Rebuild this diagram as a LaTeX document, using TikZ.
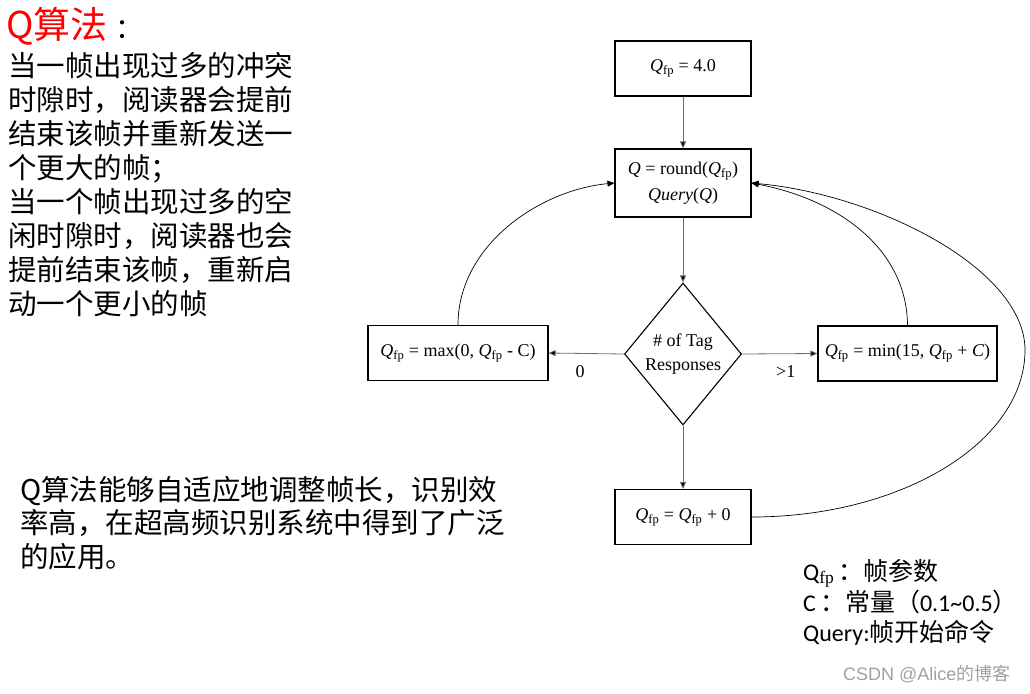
\documentclass[tikz,border=0pt]{standalone}
\usepackage{fontspec}
\setmainfont{Liberation Serif}
\newfontfamily\cjk{Noto Sans CJK SC}
\newfontfamily\carlito{Carlito}
\newfontfamily\wmfont{Liberation Sans}
\usetikzlibrary{shapes.geometric,arrows.meta}
\newcommand{\qfp}{\textit{Q}\textsubscript{fp}}
\definecolor{wmgray}{RGB}{160,160,160}
\definecolor{flowgray}{RGB}{110,110,110}

\begin{document}
\begin{tikzpicture}
        [
            x = 1pt, y = -1pt,
            fpbox/.style = {draw, line width=1.1pt, minimum width=136pt, minimum height=55pt,
                inner sep=0pt, align=center, font=\fontsize{18}{26}\selectfont},
            tagtest/.style = {draw, diamond, line width=1.1pt, minimum width=117pt, minimum height=142pt,
                inner sep=0pt, align=center, font=\fontsize{18}{24}\selectfont},
            flow/.style = {draw=flowgray, line width=0.8pt, -{Triangle[length=7pt,width=6pt,fill=black]}},
            backline/.style = {line width=0.7pt, -{Triangle[length=7pt,width=6pt]}},
            edgetext/.style = {font=\fontsize{18}{18}\selectfont, inner sep=0pt, below=12pt, pos=0.58},
            cjktext/.style = {font=\cjk\fontsize{28.5}{28.5}\selectfont, anchor=base west, inner sep=0pt},
            legend/.style = {font=\cjk\fontsize{25}{25}\selectfont, anchor=base west, inner sep=0pt},
        ]
        \useasboundingbox (0,0) rectangle (1030,693);

        \node[fpbox] (init) at (683,68.5) {\qfp{} = 4.0};
        \node[fpbox, minimum height=68pt] (query) at (683,183)
            {\textit{Q} = round(\qfp)\\\textit{Query}(\textit{Q})};
        \node[tagtest] (tags) at (683,354) {\# of Tag\\Responses};
        \node[fpbox, minimum width=180pt] (dec) at (458,353) {\qfp{} = max(0, \qfp{} - C)};
        \node[fpbox, minimum width=179pt] (inc) at (907.5,353.5) {\qfp{} = min(15, \qfp{} + \textit{C})};
        \node[fpbox] (keep) at (683,517) {\qfp{} = \qfp{} + 0};
        \coordinate (farright) at (1025,350);

        \draw[flow] (init) -- (query);
        \draw[flow] (query) -- (tags);
        \draw[flow] (tags.west) -- node[edgetext] {0} (dec.east);
        \draw[flow] (tags.east) -- node[edgetext] {>1} (inc.west);
        \draw[flow] (tags.south) -- (keep.north);

        \draw[backline] (dec.north) .. controls (458,245) and (540,190) .. (query.west);
        \draw[backline] (inc.north) .. controls (907,250) and (840,200) .. (query.east);
        \draw[backline] (keep.east) .. controls (902,517) and (1025,442) .. (farright)
            .. controls (1025,270) and (880,195) .. (query.east);

        \node[font=\cjk\fontsize{37}{37}\selectfont, anchor=base west, inner sep=0pt] (title) at (6,39)
            {{\color{red}Q算法}\hspace{8pt}{\fontsize{28}{28}\selectfont ：}};
        \foreach \txt [count=\i] in {当一帧出现过多的冲突, 时隙时，阅读器会提前, 结束该帧并重新发送一,
            个更大的帧；, 当一个帧出现过多的空, 闲时隙时，阅读器也会, 提前结束该帧，重新启, 动一个更小的帧}
            \node[cjktext] (rule\i) at (8,{41.9+34.1*\i}) {\txt};
        \foreach \txt [count=\i] in {Q算法能够自适应地调整帧长，识别效, 率高，在超高频识别系统中得到了广泛, 的应用。}
            \node[cjktext] (sum\i) at (20,{466.5+33.5*\i}) {\txt};

        \node[legend] (leg1) at (803,580) {{\carlito\fontsize{24}{24}\selectfont Q}\textsubscript{\rmfamily fp}\hspace{4pt}：帧参数};
        \node[legend] (leg2) at (803,611) {{\carlito\fontsize{24}{24}\selectfont C}\hspace{4pt}：常量（{\carlito\fontsize{24}{24}\selectfont 0.1\textasciitilde0.5}）};
        \node[legend] (leg3) at (803,641) {{\carlito\fontsize{24}{24}\selectfont Query:}帧开始命令};
        \node[anchor=base west, inner sep=0pt, text=wmgray, font=\wmfont\fontsize{18}{18}\selectfont] (mark) at (843,680)
            {CSDN @Alice{\cjk 的博客}};
\end{tikzpicture}
\end{document}
